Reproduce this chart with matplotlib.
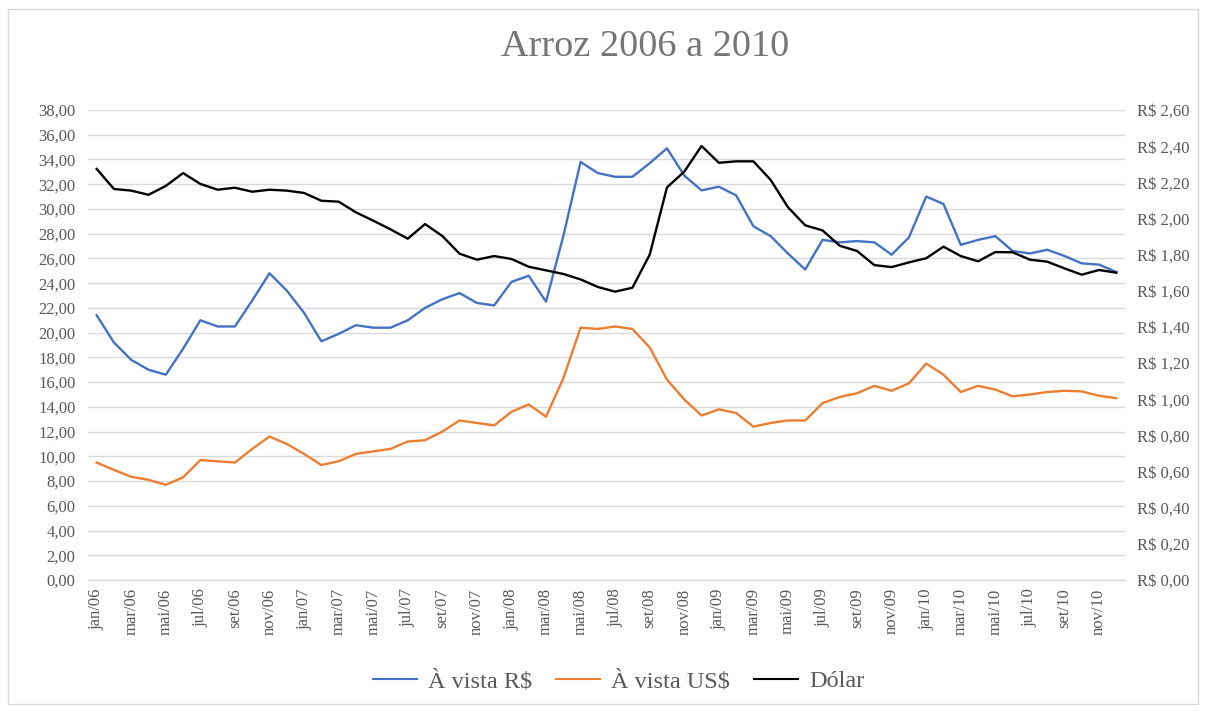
import numpy as np
import matplotlib.pyplot as plt
from matplotlib.patches import Rectangle
from matplotlib.ticker import FuncFormatter

plt.rcParams['font.family'] = ['Liberation Serif', 'DejaVu Serif']

meses = ['jan', 'fev', 'mar', 'abr', 'mai', 'jun',
         'jul', 'ago', 'set', 'out', 'nov', 'dez']
anos = ['06', '07', '08', '09', '10']
labels = [m + '/' + a for a in anos for m in meses]

avista_rs = [21.4, 19.2, 17.8, 17.0, 16.6, 18.7, 21.0, 20.5, 20.5, 22.6, 24.8, 23.4,
             21.6, 19.3, 19.9, 20.6, 20.4, 20.4, 21.0, 22.0, 22.7, 23.2, 22.4, 22.2,
             24.1, 24.6, 22.5, 27.8, 33.8, 32.9, 32.6, 32.6, 33.7, 34.9, 32.7, 31.5,
             31.8, 31.1, 28.6, 27.8, 26.4, 25.1, 27.5, 27.3, 27.4, 27.3, 26.3, 27.7,
             31.0, 30.4, 27.1, 27.5, 27.8, 26.6, 26.4, 26.7, 26.2, 25.6, 25.5, 24.9]

avista_us = [9.5, 8.9, 8.35, 8.1, 7.7, 8.3, 9.7, 9.6, 9.5, 10.6, 11.6, 11.0,
             10.2, 9.3, 9.6, 10.2, 10.4, 10.6, 11.2, 11.3, 12.0, 12.9, 12.7, 12.5,
             13.6, 14.2, 13.2, 16.3, 20.4, 20.3, 20.5, 20.3, 18.8, 16.2, 14.6, 13.3,
             13.8, 13.5, 12.4, 12.7, 12.9, 12.9, 14.3, 14.8, 15.1, 15.7, 15.3, 15.9,
             17.5, 16.6, 15.2, 15.7, 15.4, 14.85, 15.0, 15.2, 15.3, 15.25, 14.9, 14.7]

dolar = [2.274, 2.163, 2.154, 2.131, 2.180, 2.251, 2.191, 2.159, 2.170, 2.148, 2.159, 2.154,
         2.141, 2.098, 2.093, 2.034, 1.988, 1.940, 1.888, 1.969, 1.903, 1.805, 1.772, 1.792,
         1.776, 1.733, 1.713, 1.693, 1.663, 1.621, 1.595, 1.617, 1.800, 2.172, 2.259, 2.401,
         2.308, 2.316, 2.316, 2.213, 2.062, 1.962, 1.934, 1.849, 1.820, 1.742, 1.731, 1.757,
         1.780, 1.844, 1.792, 1.763, 1.814, 1.813, 1.772, 1.761, 1.724, 1.689, 1.715, 1.700]

cinza = '#595959'
x = np.arange(len(labels))

fig = plt.figure(figsize=(12.06, 7.11), dpi=100)
fig.patches.append(Rectangle((0.007, 0.01), 0.986, 0.978, transform=fig.transFigure,
                             fill=False, edgecolor='#d9d9d9', linewidth=1))
ax = fig.add_axes([0.073, 0.1842, 0.8598, 0.6611])
ax2 = ax.twinx()

l1, = ax.plot(x, avista_rs, color='#4472C4', linewidth=1.7, label='À vista R$')
l2, = ax.plot(x, avista_us, color='#ED7D31', linewidth=1.7, label='À vista US$')
l3, = ax2.plot(x, dolar, color='#000000', linewidth=1.7, label='Dólar')

ax.set_xlim(-0.5, len(labels) - 0.5)
ax.set_ylim(0, 38)
ax2.set_ylim(0, 2.6)
ax.set_yticks(np.arange(0, 38.1, 2))
ax2.set_yticks(np.arange(0, 2.61, 0.2))
ax.yaxis.set_major_formatter(FuncFormatter(lambda v, p: f'{v:.2f}'.replace('.', ',')))
ax2.yaxis.set_major_formatter(FuncFormatter(lambda v, p: 'R$ ' + f'{v:.2f}'.replace('.', ',')))
ax.set_xticks(x[::2])
ax.set_xticklabels(labels[::2], rotation=90)

ax.grid(axis='y', color='#d9d9d9', linewidth=1)
ax.set_axisbelow(True)
for a in (ax, ax2):
    for s in a.spines.values():
        s.set_visible(False)
    a.tick_params(length=0, colors=cinza, labelsize=12)
ax.spines['bottom'].set_visible(True)
ax.spines['bottom'].set_color('#d9d9d9')
ax.tick_params(axis='y', pad=9)
ax.tick_params(axis='x', pad=6)
ax2.tick_params(axis='y', pad=9)

fig.text(0.535, 0.934, 'Arroz 2006 a 2010', ha='center', va='center',
         fontsize=27.5, color='#757575')
leg = fig.legend(handles=[l1, l2, l3], loc='center', bbox_to_anchor=(0.513, 0.042),
                 ncol=3, frameon=False, fontsize=17.5, labelcolor=cinza,
                 handlelength=1.8, handletextpad=0.45, columnspacing=1.0)
for h in leg.legend_handles:
    h.set_linewidth(1.5)

fig.savefig('out.png', dpi=100)
